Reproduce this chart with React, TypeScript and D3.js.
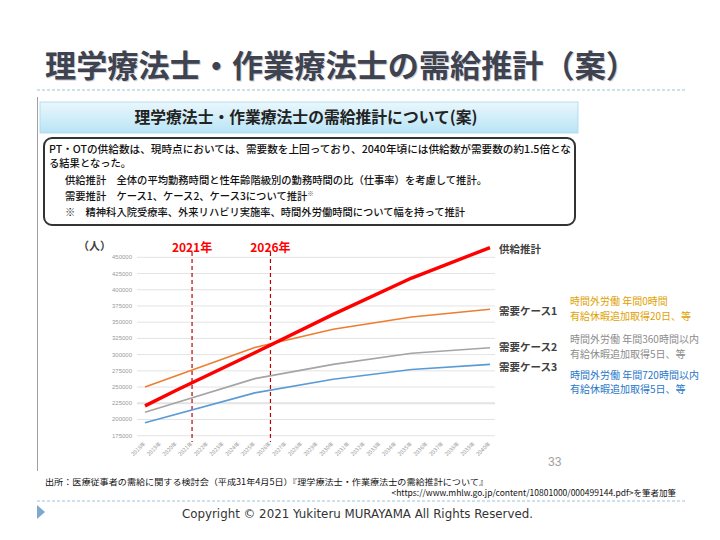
import React from "react";
import * as d3 from "d3";

const years = d3.range(2018, 2041);
const supplyYears = [2018, 2020, 2025, 2030, 2035, 2040];
const supply = [221000, 245000, 303000, 362000, 418000, 465000];
const case1Years = [2018, 2025, 2030, 2035, 2040];
const case1 = [250000, 311000, 339000, 358000, 370000];
const case2Years = [2018, 2025, 2030, 2035, 2040];
const case2 = [211000, 263000, 285000, 302000, 310500];
const case3Years = [2018, 2025, 2030, 2035, 2040];
const case3 = [195000, 241000, 262000, 277000, 285000];
const yTicks = [175000, 200000, 225000, 250000, 275000, 300000, 325000, 350000, 375000, 400000, 425000, 450000];
const markerYears = [2021, 2026];
const markerLabels = ["2021年", "2026年"];

const JP = "'Noto Sans CJK JP', 'Noto Sans', sans-serif";

export default function App() {
  const x = d3.scaleLinear().domain([2018, 2040]).range([145, 490]);
  const y = d3.scaleLinear().domain([175000, 450000]).range([435.7, 257.3]);
  const line = (xs: number[], vs: number[]) =>
    d3.line<number>().x((_, i) => x(xs[i])).y((v) => y(v))(vs) || "";

  const series = [
    { xs: case3Years, vs: case3, color: "#5b9bd5", w: 1.6 },
    { xs: case2Years, vs: case2, color: "#a5a5a5", w: 1.6 },
    { xs: case1Years, vs: case1, color: "#ed7d31", w: 1.6 },
    { xs: supplyYears, vs: supply, color: "#ff0000", w: 3.4 },
  ];

  return (
    <svg width={720} height={540} style={{ position: "absolute", left: 0, top: 0, background: "#fff" }}>
      <defs>
        <linearGradient id="hdr" x1="0" y1="0" x2="0" y2="1">
          <stop offset="0" stopColor="#eaf7fc" />
          <stop offset="1" stopColor="#b8e4f6" />
        </linearGradient>
      </defs>
      <rect x={0} y={0} width={720} height={540} fill="#fff" />
      {/* Title */}
      <text x={46} y={78} fontFamily={JP} fontSize={31} fontWeight={700} fill="#b0b3bb" opacity={0.6} textLength={592} lengthAdjust="spacingAndGlyphs">
        理学療法士・作業療法士の需給推計（案）
      </text>
      <text x={45} y={77} fontFamily={JP} fontSize={31} fontWeight={700} fill="#3f4350" textLength={592} lengthAdjust="spacingAndGlyphs">
        理学療法士・作業療法士の需給推計（案）
      </text>
      <line x1={37} x2={686} y1={90} y2={90} stroke="#9cc3da" strokeWidth={1} strokeDasharray="3,2" />
      {/* frame */}
      <line x1={37.5} x2={37.5} y1={97} y2={471} stroke="#a0a0a0" strokeWidth={1} />
      {/* header box */}
      <rect x={40} y={102} width={538} height={31} fill="url(#hdr)" stroke="#a9d8ec" strokeWidth={0.8} />
      <text x={306} y={123} textAnchor="middle" fontFamily={JP} fontSize={16} fontWeight={700} fill="#222" textLength={343} lengthAdjust="spacingAndGlyphs">
        理学療法士・作業療法士の需給推計について(案)
      </text>
      {/* rounded text box */}
      <rect x={44} y={138} width={531} height={87} rx={8} ry={8} fill="#fff" stroke="#333" strokeWidth={2} />
      <g fontFamily={JP} fontSize={10.3} fontWeight={500} fill="#111">
        <text x={49} y={153} textLength={522} lengthAdjust="spacingAndGlyphs">
          PT・OTの供給数は、現時点においては、需要数を上回っており、2040年頃には供給数が需要数の約1.5倍とな
        </text>
        <text x={49} y={167}>る結果となった。</text>
        <text x={65} y={184} textLength={422} lengthAdjust="spacingAndGlyphs">
          供給推計　全体の平均勤務時間と性年齢階級別の勤務時間の比（仕事率）を考慮して推計。
        </text>
        <text x={65} y={200}>
          需要推計　ケース1、ケース2、ケース3について推計
          <tspan fontSize={6.5} dy={-4} fill="#666">※</tspan>
        </text>
        <text x={65} y={216} textLength={400} lengthAdjust="spacingAndGlyphs">
          ※　精神科入院受療率、外来リハビリ実施率、時間外労働時間について幅を持って推計
        </text>
      </g>
      {/* chart */}
      <text x={78} y={250} fontFamily={JP} fontSize={11} fontWeight={700} fill="#404040">（人）</text>
      {yTicks.map((t) => (
        <g key={t}>
          <line x1={137} x2={495} y1={y(t)} y2={y(t)} stroke="#e3e3e3" strokeWidth={t === 225000 ? 2 : 1} />
          <text x={132} y={y(t) + 2} textAnchor="end" fontFamily="'Liberation Sans', Arial" fontSize={6} fill="#9a9a9a">
            {t}
          </text>
        </g>
      ))}
      {years.map((yr) => (
        <text
          key={yr}
          transform={`translate(${x(yr) + 1},${444}) rotate(-45)`}
          textAnchor="end"
          fontFamily={JP}
          fontSize={5.5}
          fill="#a0a0a0"
        >
          {yr}年
        </text>
      ))}
      {markerYears.map((yr, i) => (
        <g key={yr}>
          <line x1={x(yr)} x2={x(yr)} y1={252} y2={442} stroke="#c00000" strokeWidth={1.2} strokeDasharray="4,3" />
          <text x={x(yr)} y={252} textAnchor="middle" fontFamily={JP} fontSize={12} fontWeight={700} fill="#ff0000">
            {markerLabels[i]}
          </text>
        </g>
      ))}
      {series.map((s, i) => (
        <path key={i} d={line(s.xs, s.vs)} fill="none" stroke={s.color} strokeWidth={s.w} strokeLinejoin="round" />
      ))}
      {/* series labels */}
      <g fontFamily={JP} fontSize={10.5} fontWeight={700} fill="#404040">
        <text x={499} y={253}>供給推計</text>
        <text x={499} y={315}>需要ケース1</text>
        <text x={499} y={351}>需要ケース2</text>
        <text x={499} y={371}>需要ケース3</text>
      </g>
      <g fontFamily={JP} fontSize={10}>
        <text x={570} y={305} fill="#e0a000">時間外労働 年間0時間</text>
        <text x={570} y={320} fill="#e0a000">有給休暇追加取得20日、等</text>
        <text x={570} y={343} fill="#8c8c8c">時間外労働 年間360時間以内</text>
        <text x={570} y={358} fill="#8c8c8c">有給休暇追加取得5日、等</text>
        <text x={570} y={379} fill="#1f77c9">時間外労働 年間720時間以内</text>
        <text x={570} y={393} fill="#1f77c9">有給休暇追加取得5日、等</text>
      </g>
      <text x={548} y={466} fontFamily="'Liberation Sans', Arial" fontSize={12} fill="#a0a0a0">33</text>
      {/* source */}
      <g fontFamily={JP} fontSize={8.5} fill="#111">
        <text x={45} y={485} textLength={443} lengthAdjust="spacingAndGlyphs">
          出所：医療従事者の需給に関する検討会（平成31年4月5日）『理学療法士・作業療法士の需給推計について』
        </text>
        <text x={676} y={496} textAnchor="end">
          &lt;https://www.mhlw.go.jp/content/10801000/000499144.pdf&gt;を筆者加筆
        </text>
      </g>
      <line x1={37} x2={686} y1={501} y2={501} stroke="#9cc3da" strokeWidth={1} strokeDasharray="3,2" />
      <path d="M37,505 L45,512 L37,519 Z" fill="#7da9cf" />
      <text x={182} y={518} fontFamily="'DejaVu Sans', Verdana, sans-serif" fontSize={12} fill="#333" textLength={351} lengthAdjust="spacingAndGlyphs">
        Copyright © 2021 Yukiteru MURAYAMA All Rights Reserved.
      </text>
    </svg>
  );
}
